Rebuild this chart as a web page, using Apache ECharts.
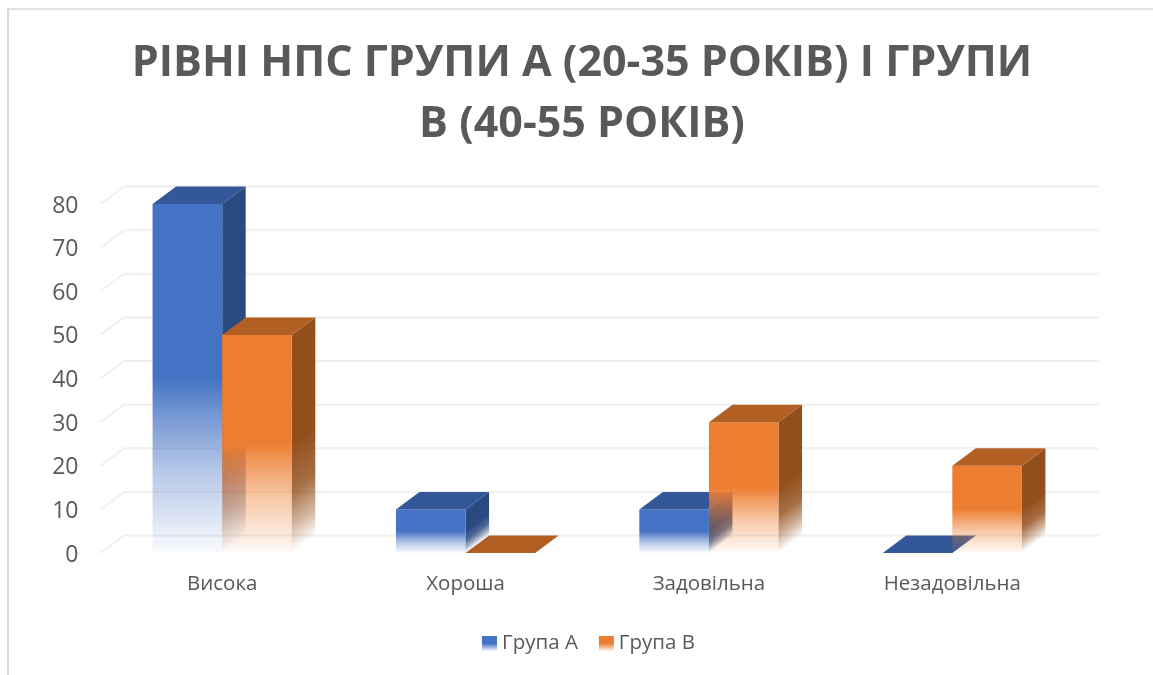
<!DOCTYPE html>
<html>
<head>
<meta charset="utf-8">
<style>
  html, body { margin: 0; padding: 0; background: #fff; }
  #main { width: 1153px; height: 675px; }
</style>
<script src="https://cdn.jsdelivr.net/npm/echarts@6/dist/echarts.min.js"></script>
</head>
<body>
<div id="main"></div>
<script>
var titleText = 'РІВНІ НПС ГРУПИ А (20-35 РОКІВ) І ГРУПИ\nВ (40-55 РОКІВ)';
var categories = ['Висока', 'Хороша', 'Задовільна', 'Незадовільна'];
var groupA = [80, 10, 10, 0];
var groupB = [50, 0, 30, 20];
var yTicks = [0, 10, 20, 30, 40, 50, 60, 70, 80];

// depth of the fake 3d box, in px
var depthX = 23.5;
var depthY = 17.5;
var barShare = 0.286;

function fade(color, x, y, x2, y2, stops) {
  return {
    type: 'linear', global: true, x: x, y: y, x2: x2, y2: y2,
    colorStops: stops.map(function (s) {
      return { offset: s[0], color: color.replace('A', s[1]) };
    })
  };
}

var frontStops = [[0, 1], [0.5, 1], [0.57, 0.82], [0.75, 0.42], [1, 0.03]];
var sideStops = [[0, 1], [0.5, 1], [0.72, 0.82], [0.88, 0.4], [1, 0]];

function boxRenderer(values, side, colors) {
  return function (params, api) {
    var i = params.dataIndex;
    var base = api.coord([i, 0]);
    var top = api.coord([i, values[i]]);
    var w = api.size([1, 0])[0] * barShare;
    var x0 = base[0] + (side < 0 ? -w : 0);
    var x1 = x0 + w;
    var y0 = top[1];
    var y1 = base[1];
    var h = y1 - y0;
    var children = [];
    if (h > 0) {
      children.push({
        type: 'polygon',
        shape: { points: [[x1, y0], [x1 + depthX, y0 - depthY], [x1 + depthX, y1 - depthY], [x1, y1]] },
        style: {
          // side face fades along its slanted bottom edge
          fill: fade(colors.side, x1, y0, x1 + h * 0.48, y0 + h * 0.64, sideStops)
        }
      });
      children.push({
        type: 'rect',
        shape: { x: x0, y: y0, width: w, height: h },
        style: { fill: fade(colors.front, 0, y0, 0, y1, frontStops) }
      });
    }
    children.push({
      type: 'polygon',
      shape: { points: [[x0, y0], [x0 + depthX, y0 - depthY], [x1 + depthX, y0 - depthY], [x1, y0]] },
      style: { fill: colors.top }
    });
    return { type: 'group', children: children };
  };
}

function legendFill(color) {
  return {
    type: 'linear', x: 0, y: 0, x2: 0, y2: 1,
    colorStops: [
      { offset: 0, color: color.replace('A', '1') },
      { offset: 0.5, color: color.replace('A', '1') },
      { offset: 1, color: color.replace('A', '0.05') }
    ]
  };
}

var blue = { front: 'rgba(68,114,196,A)', side: 'rgba(42,74,128,A)', top: '#345799' };
var orange = { front: 'rgba(237,125,49,A)', side: 'rgba(147,79,28,A)', top: '#b25f24' };

var chart = echarts.init(document.getElementById('main'), null, { renderer: 'canvas' });
chart.setOption({
  backgroundColor: '#ffffff',
  animation: false,
  title: {
    text: titleText,
    left: 577,
    top: 28,
    textAlign: 'center',
    textStyle: {
      fontFamily: '"Open Sans"',
      fontSize: 43,
      fontWeight: 'bold',
      color: '#595959',
      lineHeight: 61
    }
  },
  legend: {
    left: 477,
    top: 628,
    itemWidth: 15,
    itemHeight: 15,
    itemGap: 21,
    textStyle: { fontFamily: '"Open Sans"', fontSize: 20.5, color: '#595959' },
    data: [
      { name: 'Група А', icon: 'rect', itemStyle: { color: legendFill(blue.front) } },
      { name: 'Група В', icon: 'rect', itemStyle: { color: legendFill(orange.front) } }
    ]
  },
  grid: { left: 100.5, top: 204, width: 973.5, height: 349 },
  xAxis: {
    type: 'category',
    data: categories,
    axisLine: { show: false },
    axisTick: { show: false },
    axisLabel: { fontFamily: '"Open Sans"', fontSize: 20.5, color: '#595959', margin: 21 }
  },
  yAxis: {
    type: 'value',
    min: 0,
    max: 80,
    interval: 10,
    axisLine: { show: false },
    axisTick: { show: false },
    splitLine: { show: false },
    axisLabel: {
      margin: 22,
      formatter: '{v|{value}}',
      rich: {
        v: { fontFamily: '"Open Sans"', fontSize: 23, color: '#595959', padding: [4, 0, 0, 0] }
      }
    }
  },
  graphic: [
    { type: 'line', silent: true, shape: { x1: 8, y1: 8, x2: 8, y2: 675 }, style: { stroke: '#d9d9d9', lineWidth: 2 } },
    { type: 'line', silent: true, shape: { x1: 7, y1: 9, x2: 1153, y2: 9 }, style: { stroke: '#d9d9d9', lineWidth: 1.4 } }
  ],
  series: [
    {
      type: 'custom',
      name: 'walls',
      silent: true,
      z: 1,
      data: yTicks.map(function (t) { return [0, t]; }),
      encode: { x: 0, y: 1 },
      renderItem: function (params, api) {
        var p = api.coord([0, api.value(1)]);
        var band = api.size([1, 0])[0];
        var left = p[0] - band / 2;
        var right = left + band * categories.length;
        return {
          type: 'polyline',
          shape: { points: [[left, p[1]], [left + depthX, p[1] - depthY], [right + depthX + 1, p[1] - depthY]] },
          style: { fill: null, stroke: '#f0f0f0', lineWidth: 2 }
        };
      }
    },
    {
      type: 'custom',
      name: 'Група А',
      z: 2,
      data: groupA,
      renderItem: boxRenderer(groupA, -1, blue)
    },
    {
      type: 'custom',
      name: 'Група В',
      z: 3,
      data: groupB,
      renderItem: boxRenderer(groupB, 1, orange)
    }
  ]
});
</script>
</body>
</html>
